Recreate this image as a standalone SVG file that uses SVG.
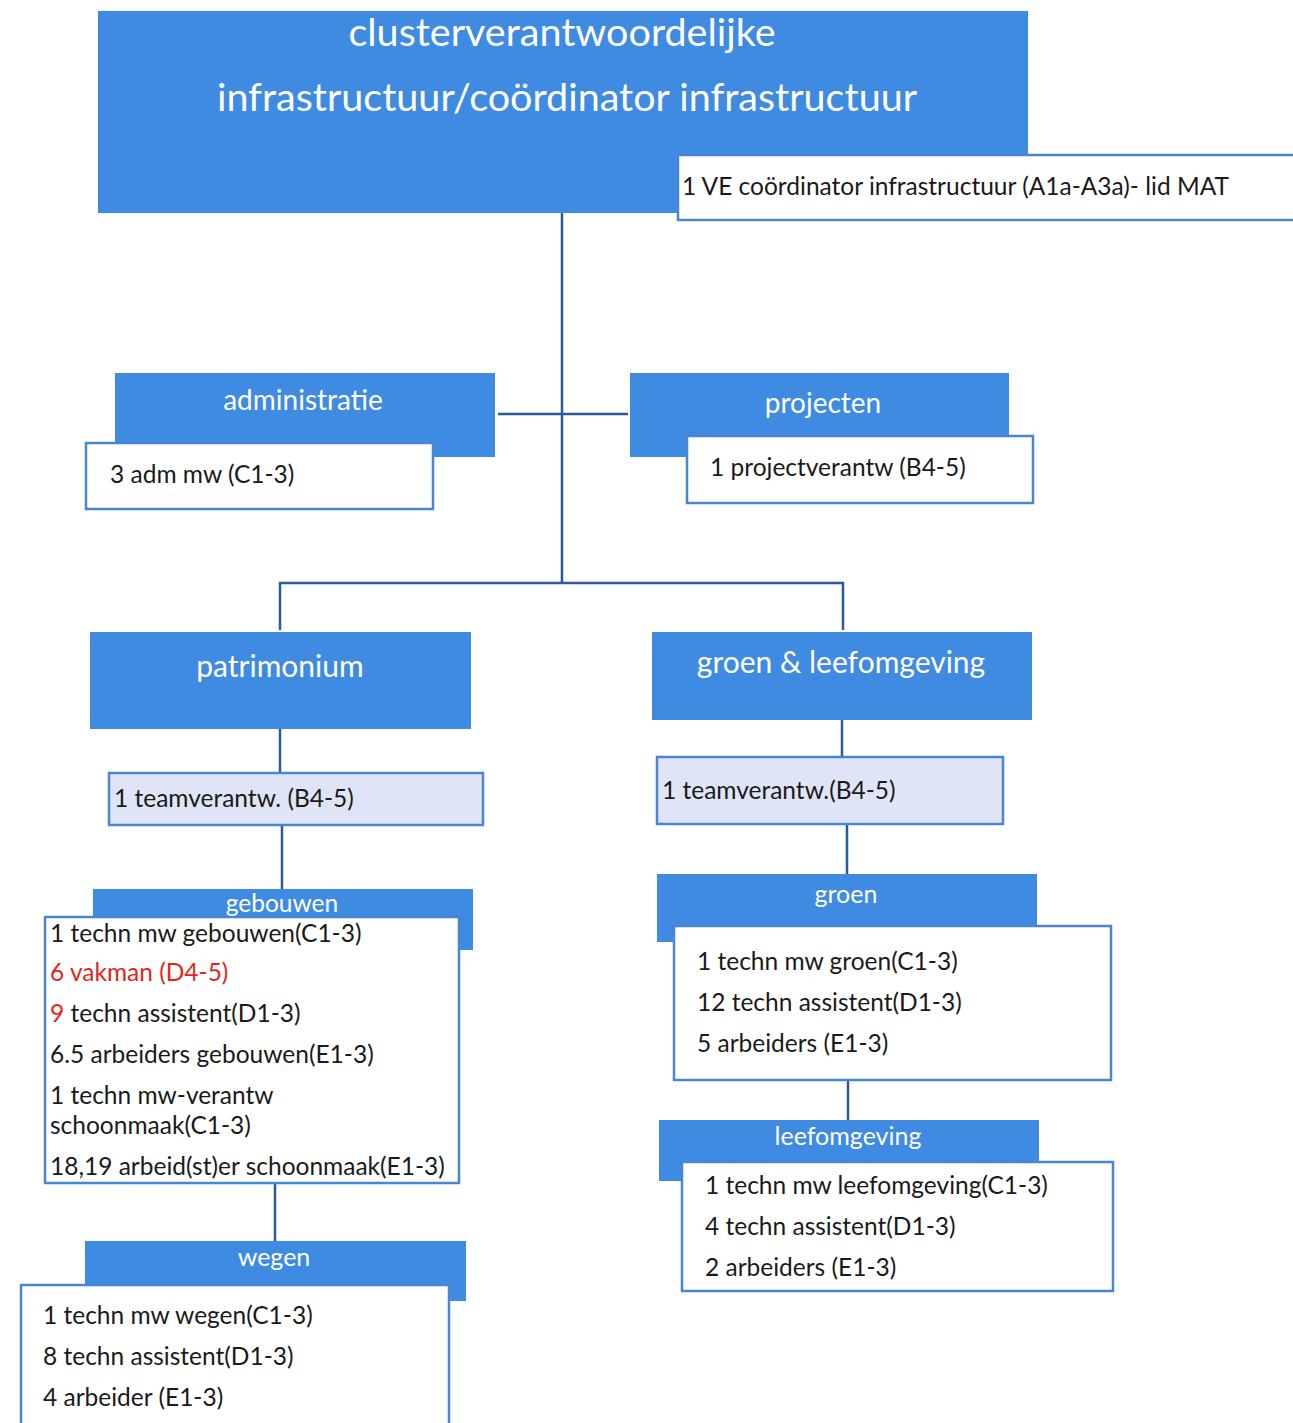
<svg xmlns="http://www.w3.org/2000/svg" width="1293" height="1423" viewBox="0 0 1293 1423">
<style>
.blue{fill:#3f8be2;}
.box{fill:#ffffff;stroke:#4a86d0;stroke-width:2.5;}
.team{fill:#dfe5f7;stroke:#4a86d0;stroke-width:2.5;}
.wt{font-family:Lato,"Open Sans",sans-serif;fill:#ffffff;text-anchor:middle;}
.bt{font-family:Lato,"Open Sans",sans-serif;fill:#1a1a1a;font-size:24.5px;}
.red{fill:#e3261c;}
.conn{stroke:#2b5a9e;stroke-width:2.5;fill:none;}
</style>
<rect width="1293" height="1423" fill="#ffffff"/>
<g id="connectors">
<line class="conn" x1="562" y1="213" x2="562" y2="583"/>
<line class="conn" x1="498" y1="414" x2="628" y2="414"/>
<polyline class="conn" points="280,630 280,583 843,583 843,630"/>
<line class="conn" x1="280" y1="729" x2="280" y2="773"/>
<line class="conn" x1="842" y1="720" x2="842" y2="757"/>
<line class="conn" x1="282" y1="825" x2="282" y2="889"/>
<line class="conn" x1="275" y1="1183" x2="275" y2="1241"/>
<line class="conn" x1="847" y1="824" x2="847" y2="874"/>
<line class="conn" x1="848" y1="1080" x2="848" y2="1120"/>
</g>
<g id="cluster">
<rect class="blue" x="98" y="11" width="930" height="202"/>
<text class="wt" x="562" y="46" font-size="39.5">clusterverantwoordelijke</text>
<text class="wt" x="567" y="111" font-size="39.5">infrastructuur/coördinator infrastructuur</text>
<rect class="box" x="678" y="155" width="625" height="65"/>
<text class="bt" x="682" y="195">1 VE coördinator infrastructuur (A1a-A3a)- lid MAT</text>
</g>
<g id="administratie">
<rect class="blue" x="115" y="373" width="380" height="84"/>
<text class="wt" x="303" y="410" font-size="28">administratie</text>
<rect class="box" x="86" y="443" width="347" height="66"/>
<text class="bt" x="110" y="483">3 adm mw (C1-3)</text>
</g>
<g id="projecten">
<rect class="blue" x="630" y="373" width="379" height="84"/>
<text class="wt" x="823" y="413" font-size="28">projecten</text>
<rect class="box" x="687" y="436" width="346" height="67"/>
<text class="bt" x="710" y="476">1 projectverantw (B4-5)</text>
</g>
<g id="patrimonium">
<rect class="blue" x="90" y="632" width="381" height="97"/>
<text class="wt" x="280" y="677" font-size="30">patrimonium</text>
<rect class="team" x="109" y="773" width="374" height="52"/>
<text class="bt" x="114" y="807">1 teamverantw. (B4-5)</text>
</g>
<g id="groen-leefomgeving">
<rect class="blue" x="652" y="632" width="380" height="88"/>
<text class="wt" x="841" y="673" font-size="30">groen &amp; leefomgeving</text>
<rect class="team" x="657" y="757" width="346" height="67"/>
<text class="bt" x="662" y="799">1 teamverantw.(B4-5)</text>
</g>
<g id="gebouwen">
<rect class="blue" x="93" y="889" width="380" height="61"/>
<text class="wt" x="282" y="912" font-size="24.5">gebouwen</text>
<rect class="box" x="45" y="917" width="414" height="266"/>
<text class="bt" x="50" y="942">1 techn mw gebouwen(C1-3)</text>
<text class="bt red" x="50" y="981">6 vakman (D4-5)</text>
<text class="bt" x="50" y="1022"><tspan class="red">9</tspan> techn assistent(D1-3)</text>
<text class="bt" x="50" y="1063">6.5 arbeiders gebouwen(E1-3)</text>
<text class="bt" x="50" y="1104">1 techn mw-verantw</text>
<text class="bt" x="50" y="1134">schoonmaak(C1-3)</text>
<text class="bt" x="50" y="1175">18,19 arbeid(st)er schoonmaak(E1-3)</text>
</g>
<g id="wegen">
<rect class="blue" x="85" y="1241" width="381" height="60"/>
<text class="wt" x="274" y="1266" font-size="25">wegen</text>
<rect class="box" x="21" y="1285" width="428" height="150"/>
<text class="bt" x="43" y="1324">1 techn mw wegen(C1-3)</text>
<text class="bt" x="43" y="1365">8 techn assistent(D1-3)</text>
<text class="bt" x="43" y="1406">4 arbeider (E1-3)</text>
</g>
<g id="groen">
<rect class="blue" x="657" y="874" width="380" height="68"/>
<text class="wt" x="846" y="903" font-size="25">groen</text>
<rect class="box" x="674" y="926" width="437" height="154"/>
<text class="bt" x="697" y="970">1 techn mw groen(C1-3)</text>
<text class="bt" x="697" y="1011">12 techn assistent(D1-3)</text>
<text class="bt" x="697" y="1052">5 arbeiders (E1-3)</text>
</g>
<g id="leefomgeving">
<rect class="blue" x="659" y="1120" width="380" height="61"/>
<text class="wt" x="848" y="1145" font-size="25">leefomgeving</text>
<rect class="box" x="682" y="1162" width="431" height="129"/>
<text class="bt" x="705" y="1194">1 techn mw leefomgeving(C1-3)</text>
<text class="bt" x="705" y="1235">4 techn assistent(D1-3)</text>
<text class="bt" x="705" y="1276">2 arbeiders (E1-3)</text>
</g>
</svg>
